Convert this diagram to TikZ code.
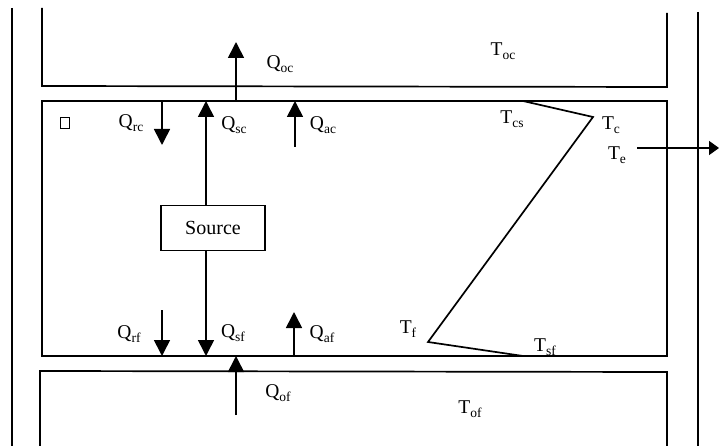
\documentclass[tikz,border=0pt]{standalone}
\usepackage{fontspec}
\setmainfont{Liberation Serif}
\usetikzlibrary{arrows.meta}
\newcommand\lsub[1]{\raisebox{-0.45ex}{\fontsize{13.5}{14}\selectfont #1}}
\begin{document}
\begin{tikzpicture}[x=1pt,y=-1pt, line width=1.6pt,
  lbl/.style={inner sep=0pt, font=\fontsize{19.5}{22}\selectfont},
  flow/.style={-{Triangle[width=16pt,length=16pt]}, line width=1.6pt},
  wall/.style={line width=1.7pt}]
\useasboundingbox (0,0) rectangle (719,446);
% outer walls
\draw[wall] (12,8) -- (12,446);
\draw[wall] (698,12) -- (698,446);
% top box
\draw[wall] (42,8) -- (42,86) -- (667,87) -- (667,13);
% middle box
\draw[wall] (42,101) rectangle (667,356);
% bottom box
\draw[wall] (40,446) -- (40,371) -- (667,372) -- (667,446);
% small square
\node[draw, line width=0.7pt, minimum width=9pt, minimum height=11pt, inner sep=0pt] (sq) at (65,123) {};
% source
\node[draw, line width=1.3pt, minimum width=104pt, minimum height=45pt, inner sep=0pt, font=\fontsize{20}{22}\selectfont] (src) at (213,228) {Source};
% coordinates
\coordinate (oc0) at (236,101); \coordinate (oc1) at (236,42);
\coordinate (rc0) at (162,101); \coordinate (rc1) at (162,145);
\coordinate (sc1) at (206,101);
\coordinate (ac0) at (295,147); \coordinate (ac1) at (295,101);
\coordinate (rf0) at (162,310); \coordinate (rf1) at (162,356);
\coordinate (sf1) at (206,356);
\coordinate (af0) at (294,356); \coordinate (af1) at (294,312);
\coordinate (of0) at (236,415); \coordinate (of1) at (236,356);
\coordinate (te0) at (637,148); \coordinate (te1) at (719,148);
% flows
\draw[flow] (oc0) -- (oc1);
\draw[flow] (rc0) -- (rc1);
\draw[flow] (src.north -| sc1) -- (sc1);
\draw[flow] (ac0) -- (ac1);
\draw[flow] (rf0) -- (rf1);
\draw[flow] (src.south -| sf1) -- (sf1);
\draw[flow] (af0) -- (af1);
\draw[flow] (of0) -- (of1);
\draw[-{Triangle[width=14pt,length=10pt]}, line width=1.6pt] (te0) -- (te1);
% temperature profile
\coordinate (pcs) at (523,101);
\coordinate (pc) at (593,117);
\coordinate (pf) at (428,342);
\coordinate (psf) at (523,356);
\draw[line width=1.7pt, line join=miter] (pcs) -- (pc) -- (pf) -- (psf);
% labels
\node[lbl] (Qoc) at (280,64) {Q\lsub{oc}};
\node[lbl] (Qrc) at (131,123) {Q\lsub{rc}};
\node[lbl] (Qsc) at (234,125) {Q\lsub{sc}};
\node[lbl] (Qac) at (323,125) {Q\lsub{ac}};
\node[lbl] (Qrf) at (129,334) {Q\lsub{rf}};
\node[lbl] (Qsf) at (233,333) {Q\lsub{sf}};
\node[lbl] (Qaf) at (322,334) {Q\lsub{af}};
\node[lbl] (Qof) at (278,393) {Q\lsub{of}};
\node[lbl] (Toc) at (503,51) {T\lsub{oc}};
\node[lbl] (Tcs) at (512,119) {T\lsub{cs}};
\node[lbl] (Tc) at (611,125) {T\lsub{c}};
\node[lbl] (Te) at (617,155) {T\lsub{e}};
\node[lbl] (Tf) at (408,329) {T\lsub{f}};
\node[lbl] (Tsf) at (545,347) {T\lsub{sf}};
\node[lbl] (Tof) at (470,409) {T\lsub{of}};
\end{tikzpicture}
\end{document}
